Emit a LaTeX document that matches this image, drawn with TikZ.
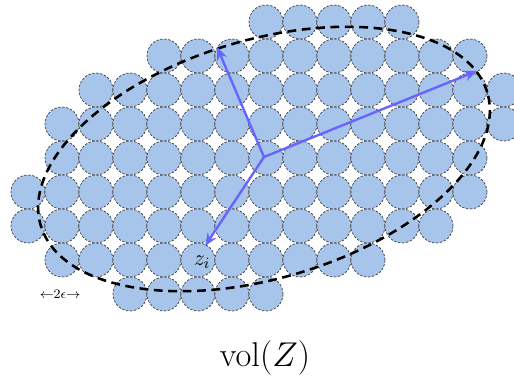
\RequirePackage{fix-cm}
\documentclass[tikz,border=0pt]{standalone}
\usetikzlibrary{arrows.meta}
\definecolor{cfill}{RGB}{167,196,234}
\definecolor{arrowc}{RGB}{102,102,255}
\begin{document}
\begin{tikzpicture}[x=0.625pt,y=0.625pt,
  cellcirc/.style={circle, draw=black!75, fill=cfill, line width=0.45pt,
    dash pattern=on 1.5pt off 1pt, minimum size=21.25pt, inner sep=0pt, outer sep=0pt},
  bound/.style={draw=black, line width=1.6pt, dash pattern=on 5.5pt off 3.5pt},
  vec/.style={draw=arrowc, line width=1.5pt, -{Stealth[length=8pt,width=6.5pt]}},
  lab/.style={inner sep=1pt}]
\useasboundingbox (0,0) rectangle (514,375);
\foreach \py/\ka/\kb [count=\j] in {22/7/11, 56/4/13, 90/2/14, 124/1/14, 158/1/13, 192/0/13, 226/0/12, 260/1/10, 294/3/7}{
  \foreach \k in {\ka,...,\kb}{
    \node[cellcirc] (c-\j-\k) at ({28+34*\k},{375-\py}) {};
  }
}
\draw[bound, shift={(264,216)}, rotate=16.6] (0,0) ellipse [x radius=145.6pt, y radius=74.5pt];
\coordinate (o) at (264,218);
\coordinate (t1) at (217,328);
\coordinate (t2) at (477,304);
\coordinate (t3) at (205,129);
\draw[vec] (o) -- (t1);
\draw[vec] (o) -- (t2);
\draw[vec] (o) -- (t3);
\node[lab, font=\fontsize{14}{17}\selectfont] (zi) at (202,113) {$z_i$};
\node[lab, font=\fontsize{8.2}{10}\selectfont] (eps) at (60,81) {$\leftarrow$2$\epsilon$$\rightarrow$};
\node[lab, font=\fontsize{21.5}{26}\selectfont] (vol) at (265,17) {$\mathrm{vol}(Z)$};
\end{tikzpicture}
\end{document}
